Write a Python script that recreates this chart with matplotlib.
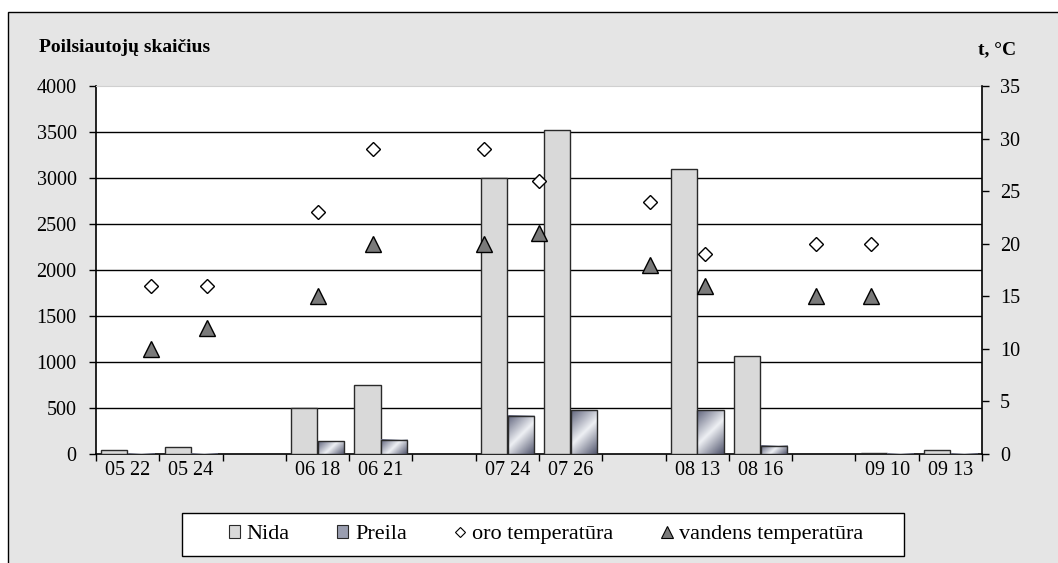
import numpy as np
import matplotlib
matplotlib.use("Agg")
import matplotlib.pyplot as plt
from matplotlib.patches import Rectangle, Patch
from matplotlib.lines import Line2D
from matplotlib.colors import LinearSegmentedColormap
from matplotlib.font_manager import FontProperties

plt.rcParams['font.family'] = ['Liberation Serif', 'DejaVu Serif']

# ---- data ----
categories = ["05 22", "05 24", "", "06 18", "06 21", "", "07 24", "07 26", "",
              "08 13", "08 16", "", "09 10", "09 13"]
nida = [45, 80, 0, 500, 755, 0, 3000, 3520, 0, 3100, 1060, 0, 15, 45]
preila = [3, 3, 0, 140, 155, 0, 415, 475, 0, 475, 92, 0, 3, 3]
temp_slots = [1, 2, 4, 5, 7, 8, 10, 11, 13, 14]
oro = [16, 16, 23, 29, 29, 26, 24, 19, 20, 20]
vandens = [10, 12, 15, 20, 20, 21, 18, 16, 15, 15]
left_ticks = [0, 500, 1000, 1500, 2000, 2500, 3000, 3500, 4000]
right_ticks = [0, 5, 10, 15, 20, 25, 30, 35]

W, H = 1058, 563
fig = plt.figure(figsize=(W / 100, H / 100), dpi=100, facecolor="white")

# grey chart background with border
bg = Rectangle((8 / W, -0.2), 1.2, 1 - 12 / H + 0.2, transform=fig.transFigure,
               facecolor="#e5e5e5", edgecolor="black", linewidth=1.0, zorder=-10)
fig.patches.append(bg)

L, R, T, B = 96, 982, 86, 454
ax = fig.add_axes([L / W, 1 - B / H, (R - L) / W, (B - T) / H])
ax.set_facecolor("white")
n = len(categories)
ax.set_xlim(-0.5, n - 0.5)
ax.set_ylim(0, 4000)

x = np.arange(n)
bw = 0.415
off = 0.21
edge = "#2a2a2a"
ax.bar(x - off, nida, width=bw, color="#d9d9d9", edgecolor=edge, linewidth=1.0, zorder=3)
pbars = ax.bar(x + off, preila, width=bw, color="none", edgecolor=edge, linewidth=1.0, zorder=4)

# gradient fill for Preila bars
cmap = LinearSegmentedColormap.from_list(
    "pre", [(0.0, "#62667e"), (0.5, "#eef0f4"), (1.0, "#50546c")])
px_x = (R - L) / n
px_y = (B - T) / 4000
for bar in pbars:
    h = bar.get_height()
    if h <= 0:
        continue
    wpx = bar.get_width() * px_x
    hpx = max(h * px_y, 1)
    nx, ny = 40, max(int(hpx), 2)
    xs = np.linspace(-wpx / 2, wpx / 2, nx)
    ys = np.linspace(hpx / 2, -hpx / 2, ny)
    X, Y = np.meshgrid(xs, ys)
    d = (X - Y) / np.sqrt(2)
    dmax = (wpx + hpx) / (2 * np.sqrt(2))
    v = 0.5 + 0.5 * d / dmax
    ax.imshow(v, cmap=cmap, vmin=0, vmax=1, aspect="auto", interpolation="bilinear",
              extent=(bar.get_x(), bar.get_x() + bar.get_width(), 0, h), zorder=3.5)
ax.set_xlim(-0.5, n - 0.5)
ax.set_ylim(0, 4000)

# grid
for yv in left_ticks[1:-1]:
    ax.axhline(yv, color="black", linewidth=1.0, zorder=1)

ax.set_yticks(left_ticks)
ax.set_yticklabels([str(v) for v in left_ticks])
ax.set_xticks(x)
ax.set_xticklabels(categories)
ax.set_xticks(np.arange(-0.5, n, 1), minor=True)
ax.tick_params(axis="x", which="major", length=0, pad=5, labelsize=14.5)
ax.tick_params(axis="x", which="minor", length=5, width=1, direction="out")
ax.tick_params(axis="y", length=5, width=1, direction="out", labelsize=14.5, pad=9)
for s in ["left", "bottom"]:
    ax.spines[s].set_linewidth(1.2)
ax.spines["top"].set_color("#d0d0d0")
ax.spines["top"].set_linewidth(0.8)
ax.spines["right"].set_visible(False)

ax2 = ax.twinx()
ax2.set_ylim(0, 35)
ax2.set_yticks(right_ticks)
ax2.tick_params(axis="y", length=5, width=1, direction="out", labelsize=14.5, pad=8)
ax2.spines["right"].set_linewidth(1.2)
ax2.spines["top"].set_visible(False)
ax2.spines["left"].set_visible(False)
ax2.spines["bottom"].set_visible(False)
tx = [-0.5 + s * n / 16 for s in temp_slots]
ax2.plot(tx, oro, linestyle="none", marker="D", markersize=7.5, markerfacecolor="white",
         markeredgecolor="black", markeredgewidth=1.0, zorder=5)
ax2.plot(tx, vandens, linestyle="none", marker="^", markersize=11.5, markerfacecolor="#7a7a7a",
         markeredgecolor="black", markeredgewidth=1.0, zorder=5)

fig.text(39 / W, 1 - 48 / H, "Poilsiautojų skaičius", fontsize=14, fontweight="bold",
         ha="left", va="center")
fig.text(1016 / W, 1 - 50 / H, "t, °C", fontsize=14, fontweight="bold", ha="right", va="center")

# legend box
lx0, lx1, ly0, ly1 = 182, 904, 513, 556
fig.patches.append(Rectangle((lx0 / W, 1 - ly1 / H), (lx1 - lx0) / W, (ly1 - ly0) / H,
                             transform=fig.transFigure, facecolor="white",
                             edgecolor="black", linewidth=1.0, zorder=1))
handles = [
    Patch(facecolor="#d9d9d9", edgecolor=edge, linewidth=0.8),
    Patch(facecolor="#9a9eb0", edgecolor=edge, linewidth=0.8),
    Line2D([], [], linestyle="none", marker="D", markersize=5.5, markerfacecolor="white",
           markeredgecolor="black", markeredgewidth=0.8),
    Line2D([], [], linestyle="none", marker="^", markersize=8, markerfacecolor="#7a7a7a",
           markeredgecolor="black", markeredgewidth=0.8),
]
labels = ["Nida", "Preila", "oro temperatūra", "vandens temperatūra"]
leg_font = FontProperties(family=["Liberation Serif", "DejaVu Serif"], size=16)
leg = fig.legend(handles, labels, loc="center", ncol=4,
                 bbox_to_anchor=((lx0 + lx1) / 2 / W + 3 / W, 1 - (ly0 + ly1) / 2 / H),
                 frameon=False, prop=leg_font,
                 handlelength=0.5, handleheight=0.5, handletextpad=0.3,
                 columnspacing=2.15, borderpad=0.0, borderaxespad=0)
leg.set_zorder(2)

fig.savefig("out.png", dpi=100, facecolor=fig.get_facecolor())
